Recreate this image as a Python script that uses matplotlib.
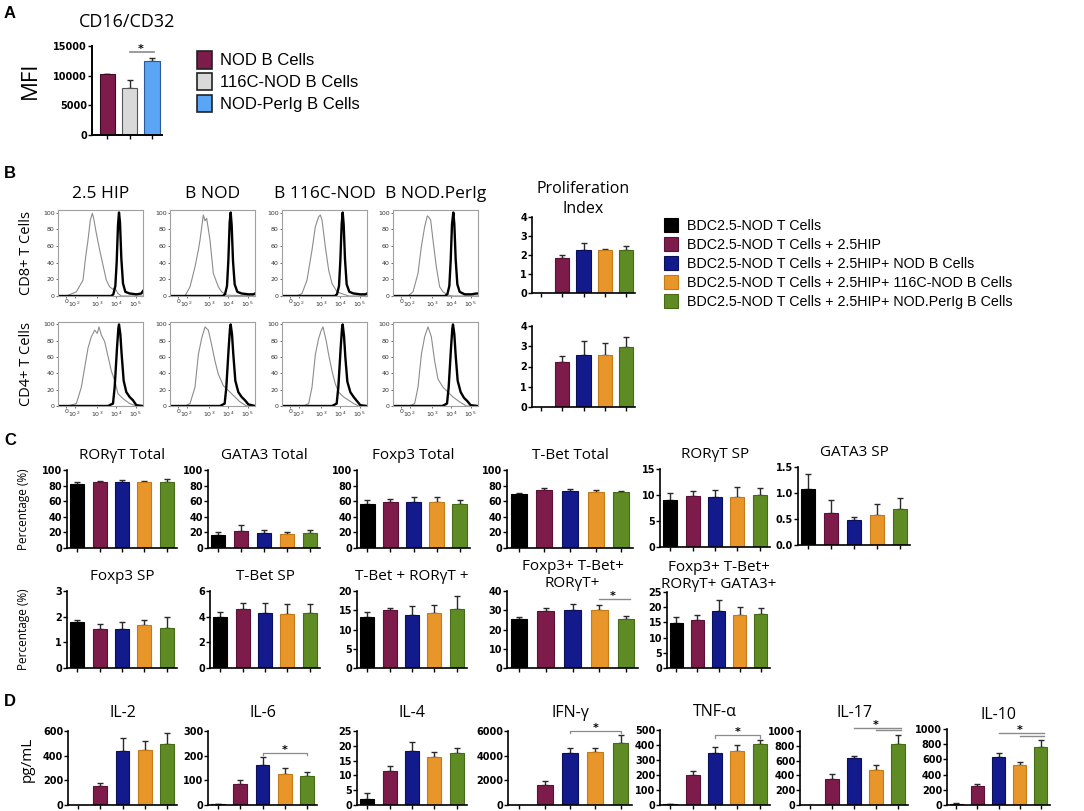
import numpy as np
import matplotlib.pyplot as plt
from matplotlib.patches import Patch

W, H = 1084, 811
TITLE_FONT = ['Open Sans', 'DejaVu Sans']
ARIAL = ['Liberation Sans', 'DejaVu Sans']

# ---------------- data ----------------
GROUP_LABELS = ['BDC2.5-NOD T Cells',
                'BDC2.5-NOD T Cells + 2.5HIP',
                'BDC2.5-NOD T Cells + 2.5HIP+ NOD B Cells',
                'BDC2.5-NOD T Cells + 2.5HIP+ 116C-NOD B Cells',
                'BDC2.5-NOD T Cells + 2.5HIP+ NOD.PerIg B Cells']
GROUP_COLORS = ['#000000', '#7d1c4a', '#131b8c', '#e8962a', '#5f8b24']
GROUP_EDGES = ['#000000', '#5b1035', '#0a0f5c', '#c57a18', '#466a16']

# panel A
A_LABELS = ['NOD B Cells', '116C-NOD B Cells', 'NOD-PerIg B Cells']
A_COLORS = ['#7d1c4a', '#d9d9d9', '#5aa5f5']
A_EDGES = ['#3a0a20', '#555555', '#2a5a9a']
A_MEAN = [10200, 8000, 12500]
A_ERR = [150, 1200, 400]
A_SIG = [(1, 2)]

# panel B histograms (channel 0-255, % of max)
HIST_TITLES = ['2.5 HIP', 'B NOD', 'B 116C-NOD', 'B NOD.PerIg']
HIST_ROWS = ['CD8+ T Cells', 'CD4+ T Cells']
HIST_TICKS = [25, 50, 117, 175, 233]
HIST_TICKLABELS = ['0', '$10^2$', '$10^3$', '$10^4$', '$10^5$']

CD8_GRAY = [
    ([0, 25, 55, 75, 83, 90, 97, 103, 107, 115, 125, 135, 145, 155, 165, 170, 180, 190, 255],
     [0, 0, 5, 19, 47, 67, 91, 99, 93, 75, 55, 37, 19, 11, 8, 10, 3, 0, 0]),
    ([0, 45, 60, 75, 85, 90, 100, 105, 110, 120, 130, 145, 155, 170, 255],
     [0, 0, 11, 35, 55, 67, 97, 90, 93, 67, 27, 11, 5, 1, 0]),
    ([0, 45, 60, 75, 90, 100, 110, 115, 120, 130, 140, 150, 165, 185, 200, 255],
     [0, 0, 3, 19, 55, 83, 95, 97, 91, 59, 31, 15, 5, 2, 0, 0]),
    ([0, 45, 60, 75, 85, 95, 103, 108, 113, 120, 130, 140, 150, 165, 180, 255],
     [0, 0, 5, 27, 59, 83, 96, 94, 91, 67, 35, 11, 5, 1, 0, 0]),
]
CD8_BLACK = [
    ([0, 160, 166, 172, 176, 180, 183, 186, 190, 195, 202, 215, 235, 250, 255],
     [0, 0, 2, 12, 40, 85, 100, 88, 45, 15, 5, 3, 2, 3, 6]),
    ([0, 158, 165, 171, 175, 179, 182, 185, 189, 194, 202, 215, 235, 250, 255],
     [0, 0, 2, 12, 42, 88, 100, 85, 42, 14, 5, 3, 2, 2, 3]),
    ([0, 158, 165, 171, 175, 179, 182, 185, 189, 194, 202, 215, 235, 250, 255],
     [0, 0, 2, 12, 42, 86, 100, 86, 44, 14, 5, 3, 2, 2, 3]),
    ([0, 156, 163, 169, 173, 177, 181, 184, 188, 193, 200, 215, 235, 250, 255],
     [0, 0, 2, 12, 42, 86, 100, 86, 44, 14, 5, 2, 2, 3, 3]),
]
CD4_GRAY = [
    ([0, 30, 55, 70, 80, 90, 100, 110, 118, 123, 130, 140, 150, 160, 170, 180, 195, 215, 235, 255],
     [0, 0, 3, 23, 47, 71, 85, 93, 89, 97, 87, 79, 61, 43, 31, 15, 9, 3, 0, 0]),
    ([0, 45, 60, 75, 85, 95, 105, 110, 115, 125, 135, 145, 160, 180, 195, 210, 230, 255],
     [0, 0, 3, 23, 63, 83, 97, 95, 93, 75, 55, 39, 25, 17, 11, 5, 0, 0]),
    ([0, 65, 80, 90, 100, 110, 118, 123, 133, 140, 150, 160, 170, 185, 200, 215, 230, 255],
     [0, 0, 3, 23, 63, 83, 93, 97, 79, 63, 43, 27, 17, 11, 7, 3, 0, 0]),
    ([0, 50, 65, 75, 85, 95, 105, 115, 125, 135, 150, 165, 180, 200, 220, 255],
     [0, 0, 3, 23, 63, 85, 97, 85, 55, 33, 23, 17, 11, 5, 0, 0]),
]
CD4_BLACK = [
    ([0, 150, 165, 170, 177, 181, 183, 187, 191, 197, 205, 215, 225, 235, 255],
     [0, 0, 3, 23, 71, 95, 100, 88, 63, 31, 17, 11, 7, 1, 0]),
    ([0, 150, 164, 169, 176, 180, 182, 186, 190, 196, 205, 215, 225, 235, 255],
     [0, 0, 3, 23, 71, 95, 100, 88, 63, 31, 17, 11, 7, 2, 0]),
    ([0, 150, 164, 169, 176, 180, 182, 186, 190, 196, 205, 215, 225, 235, 255],
     [0, 0, 3, 23, 71, 95, 100, 86, 60, 30, 17, 11, 6, 1, 0]),
    ([0, 148, 162, 167, 174, 178, 180, 184, 188, 194, 203, 213, 223, 233, 255],
     [0, 0, 3, 23, 71, 95, 100, 88, 62, 31, 17, 10, 6, 1, 0]),
]

# panel B proliferation index
PROLIF_CD8 = [0, 1.85, 2.28, 2.27, 2.28]
PROLIF_CD8_ERR = [0, 0.17, 0.37, 0.03, 0.22]
PROLIF_CD4 = [0, 2.2, 2.55, 2.55, 2.97]
PROLIF_CD4_ERR = [0, 0.32, 0.72, 0.63, 0.47]
PROLIF_TICKS = [0, 1, 2, 3, 4]

# panel C
C_TITLES = ['RORγT Total', 'GATA3 Total', 'Foxp3 Total', 'T-Bet Total', 'RORγT SP', 'GATA3 SP',
            'Foxp3 SP', 'T-Bet SP', 'T-Bet + RORγT +', 'Foxp3+ T-Bet+\nRORγT+',
            'Foxp3+ T-Bet+\nRORγT+ GATA3+']
C_MEANS = [[82, 84, 85, 84.5, 84.5],
           [17, 22, 19.5, 17.5, 19.5],
           [56.5, 59, 59.5, 58.5, 56],
           [69, 74, 73, 72, 71.5],
           [9.1, 9.9, 9.6, 9.7, 10.0],
           [1.08, 0.61, 0.48, 0.58, 0.70],
           [1.78, 1.52, 1.52, 1.68, 1.55],
           [3.95, 4.58, 4.28, 4.22, 4.25],
           [13.2, 15.1, 13.8, 14.3, 15.4],
           [25.5, 29.8, 30.0, 30.0, 25.5],
           [14.8, 15.8, 18.6, 17.4, 17.9]]
C_ERRS = [[2.5, 2, 2.5, 1.5, 3.5],
          [3.5, 8, 3.5, 2.5, 3],
          [5.5, 4, 6, 6.5, 5],
          [1.5, 3.5, 3, 2, 1.5],
          [1.3, 0.8, 1.4, 1.8, 1.3],
          [0.28, 0.25, 0.05, 0.2, 0.2],
          [0.08, 0.18, 0.28, 0.18, 0.45],
          [0.45, 0.45, 0.75, 0.8, 0.7],
          [1.4, 0.5, 2.4, 2.0, 3.2],
          [1.2, 1.6, 3.5, 2.5, 1.6],
          [2.0, 1.7, 3.7, 2.8, 1.7]]
C_YTICKS = [[0, 20, 40, 60, 80, 100]] * 4 + [[0, 5, 10, 15], [0.0, 0.5, 1.0, 1.5],
            [0, 1, 2, 3], [0, 2, 4, 6], [0, 5, 10, 15, 20], [0, 10, 20, 30, 40],
            [0, 5, 10, 15, 20, 25]]
C_SIG = {9: [(3, 4)]}

# panel D
D_TITLES = ['IL-2', 'IL-6', 'IL-4', 'IFN-γ', 'TNF-α', 'IL-17', 'IL-10']
D_MEANS = [[0, 155, 440, 448, 495],
           [3, 85, 162, 126, 118],
           [2, 11.5, 18.2, 16.2, 17.5],
           [0, 1650, 4200, 4320, 5050],
           [5, 200, 348, 363, 410],
           [0, 345, 635, 475, 825],
           [15, 245, 635, 530, 760]]
D_ERRS = [[0, 25, 100, 70, 85],
          [1, 15, 32, 22, 15],
          [2, 1.8, 3, 1.8, 1.8],
          [0, 300, 400, 330, 620],
          [2, 27, 37, 35, 25],
          [0, 80, 30, 70, 125],
          [15, 35, 55, 30, 90]]
D_YTICKS = [[0, 200, 400, 600], [0, 100, 200, 300], [0, 5, 10, 15, 20, 25],
            [0, 2000, 4000, 6000], [0, 100, 200, 300, 400, 500],
            [0, 200, 400, 600, 800, 1000], [0, 200, 400, 600, 800, 1000]]
D_SIG = {1: [(2, 4)], 3: [(2, 4)], 4: [(2, 4)], 5: [(3, 4), (2, 4)], 6: [(3, 4), (2, 4)]}
D_BRACKET_ENDS = {1, 3, 4}

# ---------------- layout (pixel boxes: x0, y0, x1, y1) ----------------
A_BOX = (92, 46, 162, 135)
HIST_X = [(58, 143), (170, 255), (282, 367), (393, 478)]
HIST_Y = [(210, 296), (322, 406)]
PROLIF_BOX = [(532, 217, 635, 293), (532, 326, 635, 407)]
C_BOXES = [(67, 470, 177, 548), (208, 470, 320, 548), (357, 470, 470, 548),
           (507, 470, 633, 548), (660, 469, 770, 547), (798, 467, 910, 545),
           (67, 591, 177, 668), (210, 591, 320, 668), (357, 591, 467, 668),
           (507, 591, 638, 668), (667, 592, 770, 668)]
D_BOXES = [(68, 731, 177, 805), (208, 731, 317, 805), (357, 731, 467, 805),
           (508, 731, 632, 805), (660, 730, 770, 805), (800, 731, 908, 805),
           (947, 729, 1050, 805)]

fig = plt.figure(figsize=(W / 100, H / 100), dpi=100)


def add_axes(box):
    x0, y0, x1, y1 = box
    return fig.add_axes([x0 / W, 1 - y1 / H, (x1 - x0) / W, (y1 - y0) / H])


def fmt_tick(v):
    return f'{v:.1f}' if isinstance(v, float) else str(v)


def sig_lines(ax, means, errs, pairs, ends, ymax):
    level = max(m + e for m, e in zip(means, errs)) + 0.06 * ymax
    for i, (a, b) in enumerate(pairs):
        y = level + i * 0.035 * ymax
        if ends:
            ax.plot([a, a, b, b], [y - 0.03 * ymax, y, y, y - 0.03 * ymax],
                    color='#8a8a8a', lw=0.9, clip_on=False)
        else:
            ax.plot([a, b + 0.15], [y, y], color='#8a8a8a', lw=1.0, clip_on=False)
    ax.text((pairs[-1][0] + pairs[-1][1]) / 2, y, '*', ha='center',
            va='baseline', fontsize=8, fontweight='bold', clip_on=False)


def bar_panel(ax, means, errs, yticks, colors=GROUP_COLORS, edges=GROUP_EDGES,
              width=0.62, xlim=(-0.45, 4.45)):
    x = np.arange(len(means))
    ax.bar(x, means, width=width, color=colors, edgecolor=edges, linewidth=0.8, zorder=2)
    for xi, m, e in zip(x, means, errs):
        if e > 0:
            ax.errorbar(xi, m, yerr=[[0], [e]], fmt='none', ecolor='#2a2a2a',
                        elinewidth=1.0, capsize=2.5, capthick=1.0, zorder=1)
    ax.set_xlim(*xlim)
    ax.set_ylim(yticks[0], yticks[-1])
    ax.set_xticks(x)
    ax.set_xticklabels([])
    ax.set_yticks(yticks)
    ax.set_yticklabels([fmt_tick(v) for v in yticks], fontsize=7, fontweight='bold',
                       family='DejaVu Sans')
    for s in ['top', 'right']:
        ax.spines[s].set_visible(False)
    for s in ['left', 'bottom']:
        ax.spines[s].set_linewidth(1.2)
    ax.tick_params(axis='both', direction='out', length=3, width=1, pad=0.5)


# ---------------- panel A ----------------
ax = add_axes(A_BOX)
bar_panel(ax, A_MEAN, A_ERR, [0, 5000, 10000, 15000], colors=A_COLORS, edges=A_EDGES,
          width=0.68, xlim=(-0.68, 2.45))
for s in ['left', 'bottom']:
    ax.spines[s].set_linewidth(1.4)
ax.plot([A_SIG[0][0], A_SIG[0][1] + 0.1], [14000, 14000], color='#8a8a8a', lw=1.2, clip_on=False)
ax.text(1.5, 14000, '*', ha='center', va='baseline', fontsize=8, fontweight='bold')
ax.set_title('CD16/CD32', fontsize=13, family=TITLE_FONT, pad=14)
fig.text(30 / W, 1 - 80 / H, 'MFI', rotation=90, ha='center', va='center',
         fontsize=16, family=TITLE_FONT)
a_handles = [Patch(facecolor=c, edgecolor='#222222', linewidth=1.2) for c in A_COLORS]
fig.legend(a_handles, A_LABELS, loc='upper left', bbox_to_anchor=(182 / W, 1 - 36 / H),
           frameon=False, handlelength=0.9, handleheight=1.25, handletextpad=0.5,
           labelspacing=0.25, prop={'family': ARIAL, 'size': 12})

# ---------------- panel B histograms ----------------
for r, (gray_rows, black_rows) in enumerate([(CD8_GRAY, CD8_BLACK), (CD4_GRAY, CD4_BLACK)]):
    for c in range(4):
        ax = add_axes((HIST_X[c][0], HIST_Y[r][0], HIST_X[c][1], HIST_Y[r][1]))
        gx, gy = gray_rows[c]
        bx, by = black_rows[c]
        ax.plot(gx, gy, color='#8c8c8c', lw=0.8)
        ax.plot(bx, by, color='#000000', lw=1.7)
        ax.set_xlim(0, 255)
        ax.set_ylim(0, 103)
        ax.set_xticks(HIST_TICKS)
        ax.set_xticklabels(HIST_TICKLABELS, fontsize=4.5)
        ax.set_yticks([0, 20, 40, 60, 80, 100])
        ax.set_yticklabels(['0', '20', '40', '60', '80', '100'], fontsize=4.5)
        ax.tick_params(length=1.5, width=0.5, pad=1, colors='#333333')
        for s in ax.spines.values():
            s.set_color('#a0a0a0')
            s.set_linewidth(0.8)
        if r == 0:
            ax.set_title(HIST_TITLES[c], fontsize=12.5, family=TITLE_FONT, pad=9)
for r, label in enumerate(HIST_ROWS):
    fig.text(27 / W, 1 - (HIST_Y[r][0] + HIST_Y[r][1]) / 2 / H, label, rotation=90,
             ha='center', va='center', fontsize=10.5, family=TITLE_FONT)

# proliferation index
for r, (vals, errs) in enumerate([(PROLIF_CD8, PROLIF_CD8_ERR), (PROLIF_CD4, PROLIF_CD4_ERR)]):
    ax = add_axes(PROLIF_BOX[r])
    bar_panel(ax, vals, errs, PROLIF_TICKS, width=0.66, xlim=(-0.42, 4.42))
    if r == 0:
        ax.set_title('Proliferation\nIndex', fontsize=11.5, family=TITLE_FONT, pad=3,
                     linespacing=1.3)
b_handles = [Patch(facecolor=c, edgecolor=e, linewidth=0.8)
             for c, e in zip(GROUP_COLORS, GROUP_EDGES)]
fig.legend(b_handles, GROUP_LABELS, loc='upper left', bbox_to_anchor=(651 / W, 1 - 205 / H),
           frameon=False, handlelength=1.0, handleheight=1.1, handletextpad=0.6,
           labelspacing=0.3, prop={'family': ARIAL, 'size': 10.3})

# ---------------- panel C ----------------
for i, box in enumerate(C_BOXES):
    ax = add_axes(box)
    bar_panel(ax, C_MEANS[i], C_ERRS[i], C_YTICKS[i])
    two_lines = '\n' in C_TITLES[i]
    ax.set_title(C_TITLES[i], fontsize=11, family=TITLE_FONT, pad=3 if two_lines else 8,
                 linespacing=1.15)
    if i in C_SIG:
        sig_lines(ax, C_MEANS[i], C_ERRS[i], C_SIG[i], False, C_YTICKS[i][-1])
fig.text(24 / W, 1 - 509 / H, 'Percentage (%)', rotation=90, ha='center', va='center',
         fontsize=8.5, family=TITLE_FONT)
fig.text(24 / W, 1 - 629 / H, 'Percentage (%)', rotation=90, ha='center', va='center',
         fontsize=8.5, family=TITLE_FONT)

# ---------------- panel D ----------------
for i, box in enumerate(D_BOXES):
    ax = add_axes(box)
    bar_panel(ax, D_MEANS[i], D_ERRS[i], D_YTICKS[i])
    ax.set_title(D_TITLES[i], fontsize=11.5, family=TITLE_FONT, pad=10 if i < 6 else 7)
    if i in D_SIG:
        sig_lines(ax, D_MEANS[i], D_ERRS[i], D_SIG[i], i in D_BRACKET_ENDS, D_YTICKS[i][-1])
fig.text(27 / W, 1 - 759 / H, 'pg/mL', rotation=90, ha='center', va='center',
         fontsize=11, family=TITLE_FONT)

# panel letters
for letter, y in [('A', 14), ('B', 173), ('C', 440), ('D', 702)]:
    fig.text(4 / W, 1 - y / H, letter, ha='left', va='center', fontsize=12,
             fontweight='bold', family=ARIAL)

fig.savefig('out.png', dpi=100)
